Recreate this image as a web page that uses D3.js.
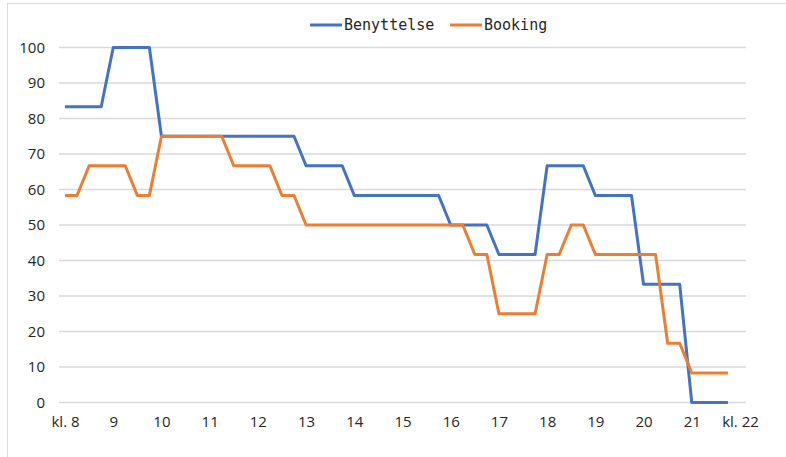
<!DOCTYPE html>
<html>
<head>
<meta charset="utf-8">
<script src="https://d3js.org/d3.v7.min.js"></script>
<style>
  body { margin: 0; background: #fff; }
</style>
</head>
<body>
<div id="chart"></div>
<script>
// quarter-hour categories, kl. 8 .. kl. 22 (last one has no data)
const hourLabels = ["kl. 8", "9", "10", "11", "12", "13", "14", "15", "16", "17", "18", "19", "20", "21", "kl. 22"];
const seriesNames = ["Benyttelse", "Booking"];

const benyttelse = [
  83.3, 83.3, 83.3, 83.3, 100, 100, 100, 100,
  75, 75, 75, 75, 75, 75, 75, 75,
  75, 75, 75, 75, 66.7, 66.7, 66.7, 66.7,
  58.3, 58.3, 58.3, 58.3, 58.3, 58.3, 58.3, 58.3,
  50, 50, 50, 50, 41.7, 41.7, 41.7, 41.7,
  66.7, 66.7, 66.7, 66.7, 58.3, 58.3, 58.3, 58.3,
  33.3, 33.3, 33.3, 33.3, 0, 0, 0, 0
];
const booking = [
  58.3, 58.3, 66.7, 66.7, 66.7, 66.7, 58.3, 58.3,
  75, 75, 75, 75, 75, 75, 66.7, 66.7,
  66.7, 66.7, 58.3, 58.3, 50, 50, 50, 50,
  50, 50, 50, 50, 50, 50, 50, 50,
  50, 50, 41.7, 41.7, 25, 25, 25, 25,
  41.7, 41.7, 50, 50, 41.7, 41.7, 41.7, 41.7,
  41.7, 41.7, 16.7, 16.7, 8.3, 8.3, 8.3, 8.3
];
const colors = ["#4472C4", "#ED7D31"];

const width = 786, height = 457;
const svg = d3.select("#chart").append("svg")
    .attr("width", width)
    .attr("height", height);

// chart area border (only top/left visible in the crop)
svg.append("rect")
    .attr("x", 7.5).attr("y", 3.5)
    .attr("width", 790).attr("height", 470)
    .attr("fill", "none")
    .attr("stroke", "#d9d9d9")
    .attr("stroke-width", 1);

const nCat = 57;
const x = d3.scalePoint()
    .domain(d3.range(nCat))
    .range([59, 746])
    .padding(0.5);

const y = d3.scaleLinear()
    .domain([0, 100])
    .range([402.5, 47.5]);

// gridlines
svg.append("g")
    .selectAll("line")
    .data(y.ticks(10))
    .join("line")
      .attr("x1", 59).attr("x2", 746)
      .attr("y1", d => y(d)).attr("y2", d => y(d))
      .attr("stroke", "#d9d9d9")
      .attr("stroke-width", 1.3);

// y axis labels
const yAxis = d3.axisLeft(y).ticks(10).tickSize(0).tickPadding(0);
svg.append("g")
    .attr("transform", "translate(45,0)")
    .call(yAxis)
    .call(g => g.select(".domain").remove())
    .call(g => g.selectAll("text")
        .style("font-size", "15px")
        .style("font-family", "'Open Sans', 'Noto Sans', sans-serif")
        .style("fill", "#262626"));

// x axis labels, one per hour
const xAxis = d3.axisBottom(x)
    .tickValues(d3.range(0, nCat, 4))
    .tickFormat(i => hourLabels[i / 4])
    .tickSize(0).tickPadding(0);
svg.append("g")
    .attr("transform", "translate(0,416)")
    .call(xAxis)
    .call(g => g.select(".domain").remove())
    .call(g => g.selectAll("text")
        .style("font-size", "15px")
        .style("font-family", "'Open Sans', 'Noto Sans', sans-serif")
        .style("fill", "#262626"));

// lines
const line = d3.line()
    .x((d, i) => x(i))
    .y(d => y(d));

[benyttelse, booking].forEach((vals, k) => {
  svg.append("path")
      .datum(vals)
      .attr("fill", "none")
      .attr("stroke", colors[k])
      .attr("stroke-width", 3)
      .attr("stroke-linejoin", "round")
      .attr("d", line);
});

// legend
const legendX = [310, 450];
const legend = svg.append("g");
seriesNames.forEach((name, k) => {
  legend.append("line")
      .attr("x1", legendX[k]).attr("x2", legendX[k] + 32)
      .attr("y1", 25).attr("y2", 25)
      .attr("stroke", colors[k])
      .attr("stroke-width", 3);
  legend.append("text")
      .attr("x", legendX[k] + 34)
      .attr("y", 30)
      .style("font-size", "15px")
      .style("font-family", "'DejaVu Sans Mono', monospace")
      .style("fill", "#262626")
      .text(name);
});
</script>
</body>
</html>
